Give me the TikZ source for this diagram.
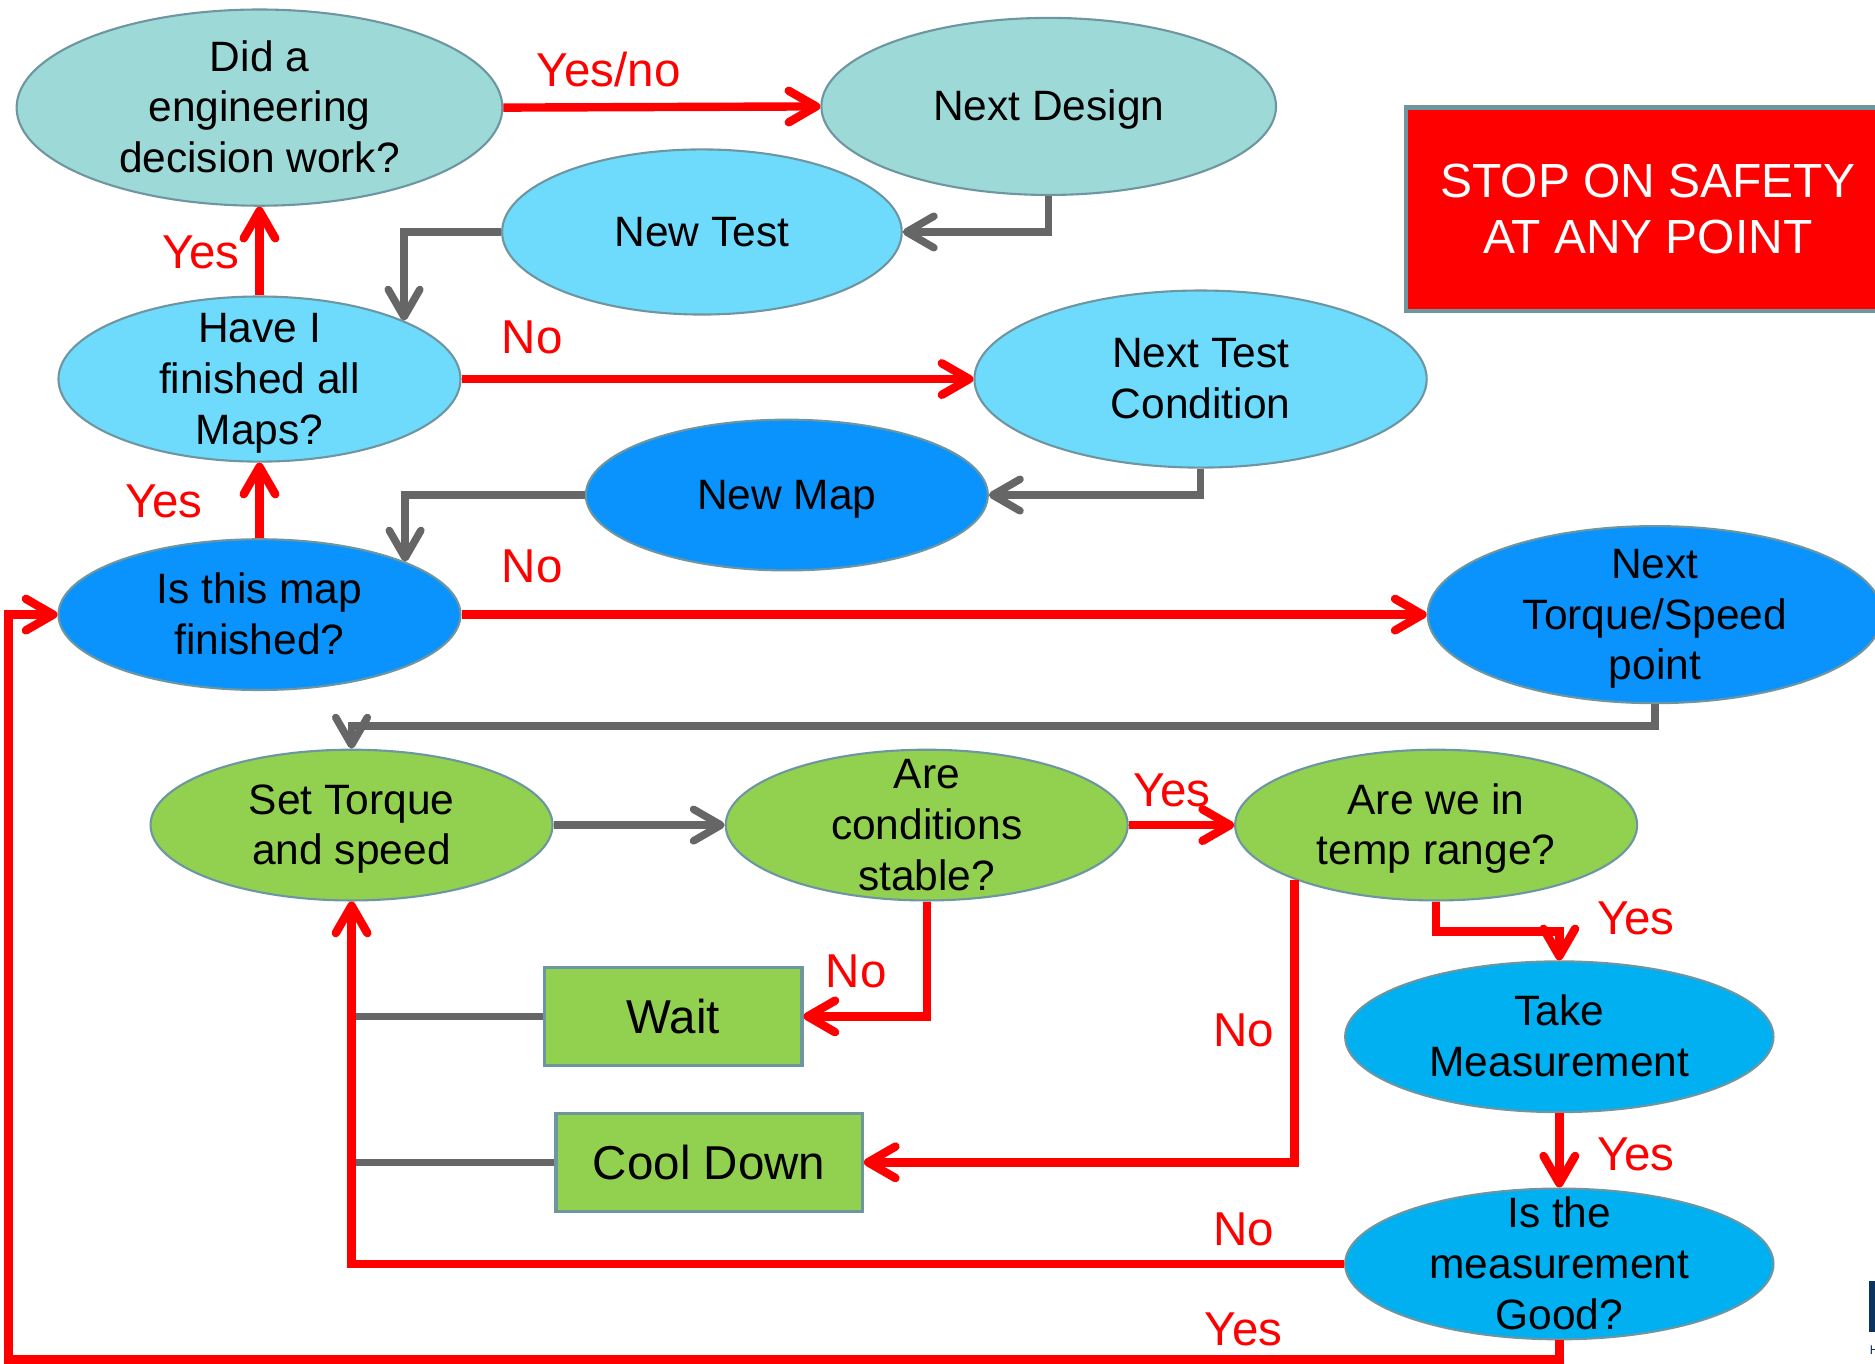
\documentclass[tikz,border=0pt]{standalone}
\usepackage{fontspec}
\setmainfont{Liberation Sans}
\usetikzlibrary{arrows.meta,shapes.geometric,calc}

\definecolor{tealfill}{RGB}{157,217,215}
\definecolor{cyanfill}{RGB}{110,218,252}
\definecolor{bluefill}{RGB}{10,147,252}
\definecolor{skyfill}{RGB}{0,176,240}
\definecolor{greenfill}{RGB}{146,208,80}
\definecolor{edgegray}{RGB}{110,150,160}
\definecolor{linegray}{RGB}{102,102,102}
\definecolor{navybar}{RGB}{12,52,96}

\begin{document}
\begin{tikzpicture}
    \tikzset{x=0.01cm,y=-0.01cm,every path/.style={>={Straight Barb[length=6.5pt,width=7.5pt,round]}},
      blob/.style={ellipse,draw=edgegray,line width=0.5pt,inner xsep=0pt,inner ysep=-8pt,font=\fontsize{10.1}{12.1}\selectfont},
      boxnode/.style={rectangle,draw=edgegray,line width=0.8pt,fill=greenfill,font=\fontsize{11.3}{13}\selectfont},
      yes/.style={red,line width=2pt,->},
      go/.style={linegray,line width=1.8pt,->},
      lbl/.style={red,font=\fontsize{11.3}{13}\selectfont}}
    \clip (0,0) rectangle (1568,1140);
%   ellipses: name/x/y/width/height/colour/text
    \foreach \nm/\cx/\cy/\w/\h/\col/\txt in {
        dec/217/90/4.06/1.64/tealfill/{Did a\\engineering\\decision work?},
        nextdes/877/89/3.80/1.48/tealfill/{Next Design},
        newtest/587/194/3.34/1.38/cyanfill/{New Test},
        allmaps/217/317/3.36/1.38/cyanfill/{Have I\\finished all\\Maps?},
        nexttc/1004/317/3.78/1.48/cyanfill/{Next Test\\Condition},
        newmap/658/414/3.36/1.26/bluefill/{New Map},
        mapdone/217/514/3.36/1.26/bluefill/{Is this map\\finished?},
        nextpt/1384/514/3.80/1.48/bluefill/{Next\\Torque/Speed\\point},
        settq/294/690/3.36/1.26/greenfill/{Set Torque\\and speed},
        stable/775/690/3.36/1.26/greenfill/{Are\\conditions\\stable?},
        temp/1201/690/3.36/1.26/greenfill/{Are we in\\temp range?},
        take/1304/867/3.58/1.26/skyfill/{Take\\Measurement},
        good/1304/1057/3.58/1.26/skyfill/{Is the\\measurement\\Good?}}
      { \node [blob,fill=\col,minimum width=\w cm,minimum height=\h cm] (\nm) at (\cx,\cy)
          {\raisebox{-1pt}[\height][\depth]{\begin{tabular}{@{}c@{}}\txt\end{tabular}}};
      }
    \node [boxnode,minimum width=2.15cm,minimum height=0.82cm] (wait) at (563,850) {Wait};
    \node [boxnode,minimum width=2.56cm,minimum height=0.82cm] (cool) at (593,972) {Cool Down};
    \node [rectangle,draw=edgegray,line width=1pt,fill=red,text=white,align=center,minimum width=4.04cm,minimum height=1.70cm,
           font=\fontsize{11.4}{13.4}\selectfont] (stop) at (1378,175) {STOP ON SAFETY\\AT ANY POINT};
    \fill[navybar] (1563,1071) rectangle (1572,1114);
    \node [navybar,anchor=west,inner sep=0pt,font=\fontsize{3}{3}\selectfont] (logo) at (1563,1129) {H};
%   grey connectors
    \draw[go] (nextdes.south) |- (newtest.east);
    \draw[go] (newtest.west) -| (allmaps.22);
    \draw[go] (nexttc.south) |- (newmap.east);
    \draw[go] (newmap.west) -| (mapdone.20);
    \draw[go] (nextpt.south) -- ++(0,18) -| (settq.north);
    \draw[go] (settq.east) -- (stable.west);
    \draw[go,-] (wait.west) -- (wait.west -| settq.south);
    \draw[go,-] (cool.west) -- (cool.west -| settq.south);
%   red connectors
    \draw[yes] (dec.east) -- (nextdes.west);
    \draw[yes] (allmaps.north) -- (dec.south);
    \draw[yes] (allmaps.east) -- (nexttc.west);
    \draw[yes] (mapdone.north) -- (allmaps.south);
    \draw[yes] (mapdone.east) -- (nextpt.west);
    \draw[yes] (stable.east) -- (temp.west);
    \draw[yes] (temp.south) -- ++(0,25) -| (take.north);
    \draw[yes] (stable.south) |- (wait.east);
    \draw[yes] (temp.201) |- (cool.east);
    \draw[yes] (take.south) -- (good.north);
    \draw[yes] (good.west) -| (settq.south);
    \draw[yes] (good.south) -- ++(0,16) -| ([xshift=-0.41cm]mapdone.west) -- (mapdone.west);
%   labels
    \foreach \t/\lx/\ly [count=\i] in {{Yes/no}/509/58, Yes/168/211, No/445/282, Yes/137/419, No/445/474,
        Yes/980/661, Yes/1368/768, No/716/812, No/1040/862, Yes/1368/965, No/1040/1028, Yes/1040/1112}
      { \node [lbl] (lab\i) at (\lx,\ly) {\t};
      }
\end{tikzpicture}
\end{document}
